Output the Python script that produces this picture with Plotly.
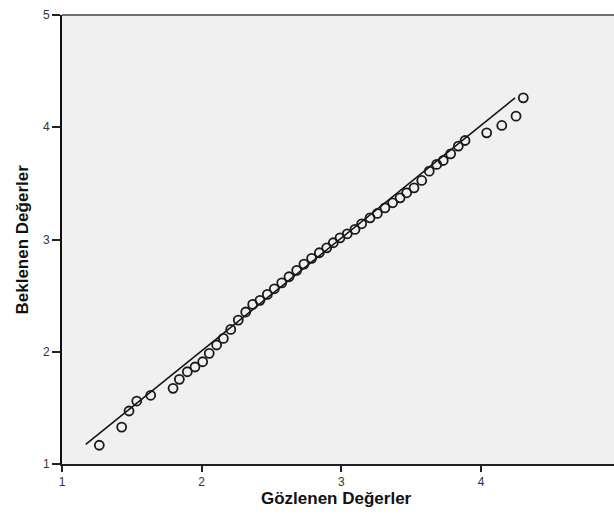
import plotly.graph_objects as go

observed = [1.267, 1.427, 1.480, 1.535, 1.635, 1.795, 1.840, 1.897, 1.952, 2.007,
            2.054, 2.107, 2.155, 2.208, 2.262, 2.315, 2.365, 2.417, 2.470, 2.520,
            2.573, 2.625, 2.680, 2.732, 2.787, 2.842, 2.895, 2.942, 2.990, 3.042,
            3.097, 3.145, 3.205, 3.257, 3.312, 3.367, 3.420, 3.467, 3.520, 3.575,
            3.629, 3.682, 3.729, 3.782, 3.837, 3.885, 4.040, 4.148, 4.250, 4.302]
expected = [1.167, 1.329, 1.472, 1.561, 1.612, 1.674, 1.754, 1.822, 1.864, 1.911,
            1.986, 2.060, 2.119, 2.199, 2.282, 2.354, 2.422, 2.458, 2.511, 2.561,
            2.614, 2.668, 2.725, 2.781, 2.832, 2.882, 2.926, 2.971, 3.015, 3.051,
            3.090, 3.140, 3.193, 3.232, 3.282, 3.327, 3.371, 3.416, 3.460, 3.526,
            3.609, 3.669, 3.704, 3.763, 3.832, 3.882, 3.950, 4.016, 4.099, 4.262]

ref_x = [1.17, 4.243]
ref_y = [1.175, 4.262]

tick_vals = [1, 2, 3, 4, 5]
tick_text = ["1", "2", "3", "4", "5"]

x_title = "Gözlenen Değerler"
y_title = "Beklenen Değerler"

W, H = 614, 516
L, R, T, B = 62, 0, 15, 52

fig = go.Figure()
fig.add_trace(go.Scatter(x=ref_x, y=ref_y, mode="lines",
                         line=dict(color="#111111", width=1.5),
                         hoverinfo="skip", showlegend=False))
fig.add_trace(go.Scatter(x=observed, y=expected, mode="markers",
                         marker=dict(symbol="circle-open", size=9,
                                     color="#1a1a1a", line=dict(width=1.8)),
                         showlegend=False))

fam = "Liberation Sans, Arial, sans-serif"

fig.update_layout(
    width=W, height=H,
    margin=dict(l=L, r=R, t=T, b=B),
    paper_bgcolor="white",
    plot_bgcolor="#f0f0f0",
    font=dict(family=fam, size=12, color="#333333"),
    showlegend=False,
    xaxis=dict(range=[1, 1 + (W - L) / 139.7], tickvals=tick_vals, ticktext=tick_text,
               ticks="outside", ticklen=6, tickwidth=1.5, tickcolor="#222222",
               showline=True, linecolor="#222222", linewidth=1.5,
               showgrid=False, zeroline=False, tickfont=dict(size=12, color="#333333")),
    yaxis=dict(range=[1, 5], tickvals=tick_vals, ticktext=tick_text,
               ticks="outside", ticklen=8, tickwidth=1.5, tickcolor="#222222",
               showline=True, linecolor="#111111", linewidth=2,
               showgrid=False, zeroline=False, tickfont=dict(size=12, color="#333333")),
    shapes=[dict(type="line", xref="paper", yref="paper", x0=0, x1=1, y0=1, y1=1,
                 line=dict(color="#707070", width=2))],
    annotations=[
        dict(text="<b>" + x_title + "</b>", xref="paper", yref="paper",
             x=(336 - L) / (W - L), y=-(498 - (H - B)) / (H - T - B),
             xanchor="center", yanchor="middle", showarrow=False,
             font=dict(size=17, color="#111111", family=fam)),
        dict(text="<b>" + y_title + "</b>", xref="paper", yref="paper",
             x=(22 - L) / (W - L), y=0.5, textangle=-90,
             xanchor="center", yanchor="middle", showarrow=False,
             font=dict(size=17, color="#111111", family=fam)),
    ],
)

fig.write_html("out.html")
